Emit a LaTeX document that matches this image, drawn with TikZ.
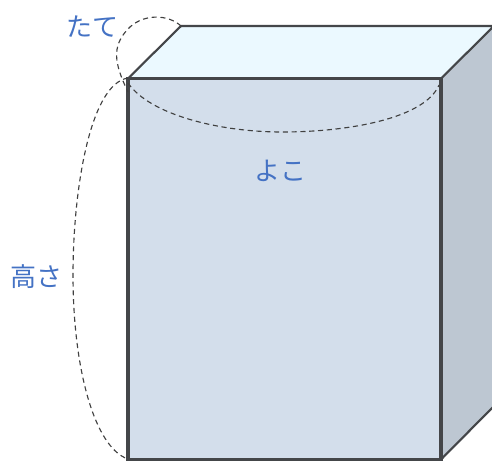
\documentclass[tikz,border=0pt]{standalone}
\usepackage{fontspec}
\newfontfamily\cjk{Noto Sans CJK JP}
\definecolor{edgeC}{HTML}{444649}
\definecolor{frontC}{HTML}{D3DEEB}
\definecolor{topC}{HTML}{EBF9FF}
\definecolor{sideC}{HTML}{BDC7D2}
\definecolor{labelC}{HTML}{4472C4}
\tikzset{
  x=0.75pt,y=-0.75pt,
  face/.style={draw=edgeC,line join=miter},
  guide/.style={draw=black!75,line width=0.85pt,dash pattern=on 3.8pt off 2.8pt},
  lab/.style={text=labelC,font=\cjk\fontsize{19.5pt}{22pt}\selectfont,inner sep=0pt}
}
\begin{document}
\begin{tikzpicture}
\useasboundingbox (0,0) rectangle (492,460);
\begin{scope}
\clip (0,0) rectangle (492,460);
\coordinate (fa) at (128,78.5);
\coordinate (fb) at (441,78.5);
\coordinate (fc) at (441,459.5);
\coordinate (fd) at (128,459.5);
\coordinate (ta) at (181,26);
\coordinate (tb) at (494,26);
\coordinate (sb) at (494,406);
\fill[topC] (fa)--(ta)--(tb)--(fb)--cycle;
\fill[sideC] (fb)--(tb)--(sb)--(fc)--cycle;
\fill[frontC] (fa)--(fb)--(fc)--(fd)--cycle;
\draw[face,line width=1.6pt] (fa)--(ta)--(tb)--(fb);
\draw[face,line width=1.6pt] (sb)--(fc);
\draw[face,line width=2.5pt] (fa)--(fb)--(fc)--(fd)--cycle;
\draw[guide] (ta) .. controls (168,14) and (142,13) .. (127,30) .. controls (112,47) and (114,63) .. (128,92);
\draw[guide] (128,83) .. controls (150,115) and (220,132) .. (282,132) .. controls (350,132) and (425,118) .. (439,85);
\draw[guide] (128,78) .. controls (90,84) and (73,190) .. (73,275) .. controls (73,370) and (95,448) .. (128,459);
\end{scope}
\node[lab] (tate) at (92.5,26.5) {たて};
\node[lab] (yoko) at (280,171) {よこ};
\node[lab] (taka) at (36,276.5) {高さ};
\end{tikzpicture}
\end{document}
